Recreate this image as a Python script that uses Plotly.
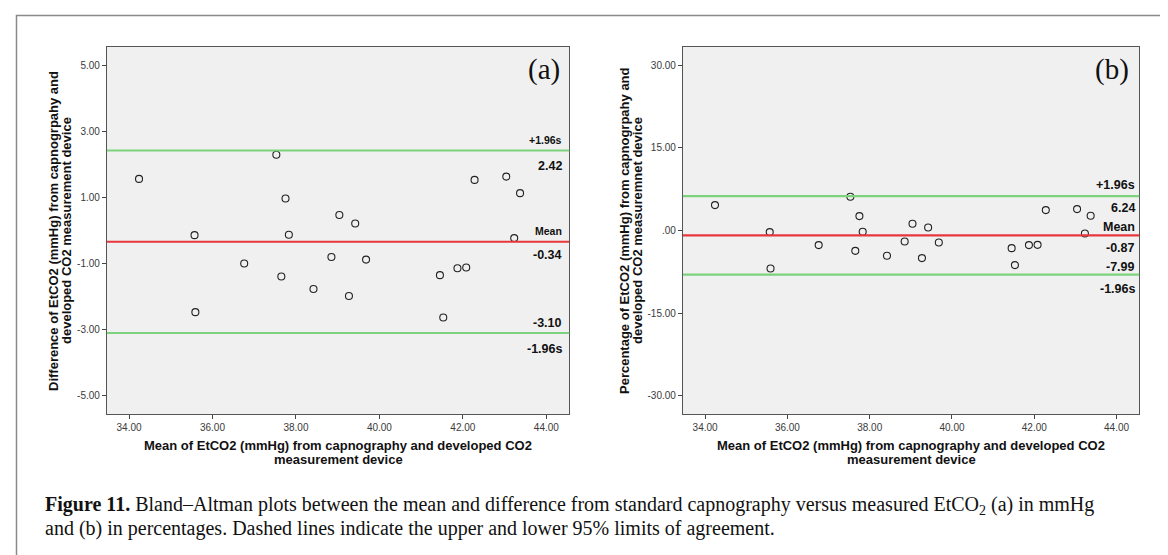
import plotly.graph_objects as go

# ---------------- data ----------------
mean_etco2 = [34.24, 35.57, 35.59, 36.76, 37.53, 37.65, 37.75, 37.83, 38.42, 38.85, 39.04,
              39.27, 39.42, 39.68, 41.45, 41.53, 41.87, 42.08, 42.28, 43.04, 43.23, 43.37]
diff_mmhg = [1.56, -0.14, -2.47, -1.00, 2.29, -1.39, 0.97, -0.13, -1.77, -0.80, 0.47,
             -1.98, 0.21, -0.88, -1.35, -2.63, -1.14, -1.12, 1.53, 1.63, -0.23, 1.13]
diff_pct = [4.61, -0.29, -6.90, -2.65, 6.12, -3.69, 2.61, -0.24, -4.59, -2.00, 1.22,
            -5.01, 0.55, -2.18, -3.20, -6.28, -2.65, -2.60, 3.70, 3.88, -0.54, 2.67]

limits_a = {"upper": 2.42, "mean": -0.34, "lower": -3.10}
limits_b = {"upper": 6.24, "mean": -0.87, "lower": -7.99}

x_ticks = [34, 36, 38, 40, 42, 44]
x_tick_text = ["34.00", "36.00", "38.00", "40.00", "42.00", "44.00"]
ya_ticks = [-5, -3, -1, 1, 3, 5]
ya_tick_text = ["-5.00", "-3.00", "-1.00", "1.00", "3.00", "5.00"]
yb_ticks = [-30, -15, 0, 15, 30]
yb_tick_text = ["-30.00", "-15.00", ".00", "15.00", "30.00"]

W, H = 1168, 555


def px(x):
    return x / W


def py(y):
    return (H - y) / H


fig = go.Figure()

for xa, ya, yvals in [("x", "y", diff_mmhg), ("x2", "y2", diff_pct)]:
    fig.add_trace(go.Scatter(
        x=mean_etco2, y=yvals, mode="markers", xaxis=xa, yaxis=ya,
        marker=dict(symbol="circle-open", size=7, color="#222222", line=dict(width=1.1)),
        showlegend=False, hoverinfo="x+y"))

axis_common = dict(showgrid=False, zeroline=False, showline=True, mirror=True,
                   linecolor="#555555", linewidth=1, ticks="outside", ticklen=4,
                   tickcolor="#444444", tickwidth=1,
                   tickfont=dict(family="Liberation Sans, Arial", size=10, color="#3A3A3A"))

fig.update_layout(
    width=W, height=H, margin=dict(l=0, r=0, t=0, b=0),
    paper_bgcolor="white", plot_bgcolor="#F0F0F0",
    xaxis=dict(domain=[px(98.9), px(561.3)], range=[33.47, 44.55], anchor="y",
               tickvals=x_ticks, ticktext=x_tick_text, **axis_common),
    yaxis=dict(domain=[py(406), py(39)], range=[-5.55, 5.55], anchor="x",
               tickvals=ya_ticks, ticktext=ya_tick_text, **axis_common),
    xaxis2=dict(domain=[px(674.9), px(1131.2)], range=[33.46, 44.55], anchor="y2",
                tickvals=x_ticks, ticktext=x_tick_text, **axis_common),
    yaxis2=dict(domain=[py(406), py(39)], range=[-33.3, 33.3], anchor="x2",
                tickvals=yb_ticks, ticktext=yb_tick_text, **axis_common),
)

GREEN = "#7DD37D"
RED = "#E8373C"
shapes = []
annotations = []
bold = dict(family="Liberation Sans, Arial", size=13, color="#111111")

for xr, yr, lim, xshift, labels in [
    ("x", "y", limits_a, -5,
     [("+1.96s", "upper", 10.7, 10.5), ("%.2f" % limits_a["upper"], "upper", -15.3, 12.5),
      ("Mean", "mean", 11, 10.5), ("%.2f" % limits_a["mean"], "mean", -13.7, 12.5),
      ("%.2f" % limits_a["lower"], "lower", 10, 12.5), ("-1.96s", "lower", -16.4, 12.5)]),
    ("x2", "y2", limits_b, -2,
     [("+1.96s", "upper", 11.3, 12.5), ("%.2f" % limits_b["upper"], "upper", -12, 12.5),
      ("Mean", "mean", 8.3, 12.5), ("%.2f" % limits_b["mean"], "mean", -12.7, 12.5),
      ("%.2f" % limits_b["lower"], "lower", 7.6, 12.5), ("-1.96s", "lower", -14.4, 12.5)]),
]:
    for key in ["upper", "mean", "lower"]:
        shapes.append(dict(type="line", xref=f"{xr} domain", yref=yr, x0=0, x1=1,
                           y0=lim[key], y1=lim[key],
                           line=dict(color=RED if key == "mean" else GREEN, width=2.2)))
    for text, key, ys, fs in labels:
        annotations.append(dict(text=f"<b>{text}</b>", xref=f"{xr} domain", yref=yr,
                                x=1, y=lim[key], xanchor="right", yanchor="middle",
                                xshift=xshift, yshift=ys, showarrow=False,
                                font=dict(family="Liberation Sans, Arial", size=fs, color="#111111")))

# panel letters
for text, xc in [("(a)", 536), ("(b)", 1104)]:
    annotations.append(dict(text=text, xref="paper", yref="paper", x=px(xc), y=py(62),
                            xanchor="center", yanchor="middle", showarrow=False,
                            font=dict(family="Liberation Serif, Times New Roman", size=29, color="#111111")))

# axis titles
ytitles = [
    (45, ["Difference of EtCO2 (mmHg) from capnogrpahy and", "developed CO2 measurement device"]),
    (616, ["Percentage of EtCO2 (mmHg) from capnogrpahy and", "developed CO2 measuremnet device"]),
]
for xc, lines in ytitles:
    for i, line in enumerate(lines):
        annotations.append(dict(text=f"<b>{line}</b>", xref="paper", yref="paper",
                                x=px(xc + 13 * i), y=py(223), textangle=-90,
                                xanchor="center", yanchor="middle", showarrow=False, font=bold))
for xc in [330, 903]:
    for i, line in enumerate(["Mean of EtCO2 (mmHg) from capnography and developed CO2",
                              "measurement device"]):
        annotations.append(dict(text=f"<b>{line}</b>", xref="paper", yref="paper",
                                x=px(xc), y=py(437.5 + 13.5 * i),
                                xanchor="center", yanchor="middle", showarrow=False, font=bold))

# caption
cap_font = dict(family="Liberation Serif, Times New Roman", size=20, color="#111111")
caption_lines = [
    "<b>Figure 11.</b> Bland–Altman plots between the mean and difference from standard "
    "capnography versus measured EtCO<sub>2</sub> (a) in mmHg",
    "and (b) in percentages. Dashed lines indicate the upper and lower 95% limits of agreement.",
]
for i, line in enumerate(caption_lines):
    annotations.append(dict(text=line, xref="paper", yref="paper", x=px(35), y=py(498 + 22.5 * i),
                            xanchor="left", yanchor="middle", showarrow=False, font=cap_font))

# outer frame
shapes.append(dict(type="rect", xref="paper", yref="paper", x0=px(8.5), x1=px(1163),
                   y0=-0.05, y1=py(7.5), line=dict(color="#8A8A8A", width=1.5),
                   fillcolor="rgba(0,0,0,0)", layer="below"))

fig.update_layout(shapes=shapes, annotations=annotations)
fig.write_html("out.html")
